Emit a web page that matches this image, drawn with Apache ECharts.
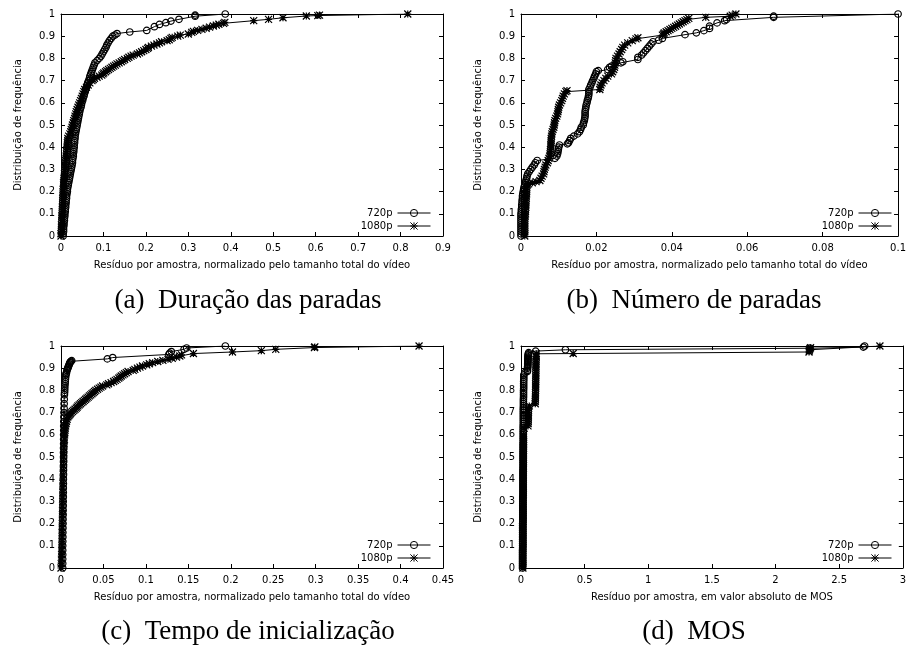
<!DOCTYPE html>
<html>
<head>
<meta charset="utf-8">
<script src="https://cdn.jsdelivr.net/npm/echarts@6/dist/echarts.min.js"></script>
<style>html,body{margin:0;padding:0;background:#fff}#c{width:909px;height:650px}</style>
</head>
<body>
<div id="c"></div>
<script>
// ---- data: [residual, cumulative frequency] ----
const a720 = [[0.005,0],[0.005,0.01],[0.006,0.02],[0.006,0.03],[0.006,0.04],[0.007,0.05],[0.007,0.06],[0.008,0.07],[0.008,0.08],[0.009,0.09],[0.009,0.10],[0.010,0.11],[0.010,0.12],[0.011,0.13],[0.011,0.14],[0.012,0.15],[0.012,0.16],[0.013,0.17],[0.013,0.18],[0.014,0.19],[0.015,0.20],[0.015,0.21],[0.016,0.22],[0.017,0.23],[0.018,0.24],[0.019,0.25],[0.020,0.26],[0.021,0.27],[0.022,0.28],[0.023,0.29],[0.024,0.30],[0.025,0.31],[0.026,0.32],[0.027,0.33],[0.027,0.34],[0.028,0.35],[0.029,0.36],[0.029,0.37],[0.030,0.38],[0.030,0.39],[0.031,0.40],[0.031,0.41],[0.032,0.42],[0.032,0.43],[0.033,0.44],[0.033,0.45],[0.034,0.46],[0.035,0.47],[0.036,0.48],[0.037,0.49],[0.038,0.50],[0.039,0.51],[0.040,0.52],[0.041,0.53],[0.042,0.54],[0.043,0.55],[0.044,0.56],[0.045,0.57],[0.047,0.58],[0.048,0.59],[0.049,0.60],[0.051,0.61],[0.052,0.62],[0.054,0.63],[0.055,0.64],[0.057,0.65],[0.058,0.66],[0.060,0.67],[0.062,0.68],[0.063,0.69],[0.065,0.70],[0.067,0.71],[0.068,0.72],[0.070,0.73],[0.072,0.74],[0.074,0.75],[0.076,0.76],[0.078,0.77],[0.080,0.78],[0.085,0.79],[0.090,0.80],[0.094,0.81],[0.097,0.82],[0.100,0.83],[0.103,0.84],[0.106,0.85],[0.108,0.86],[0.111,0.87],[0.114,0.88],[0.118,0.89],[0.122,0.90],[0.127,0.905],[0.132,0.912],[0.162,0.919],[0.202,0.926],[0.220,0.943],[0.232,0.953],[0.247,0.961],[0.259,0.968],[0.278,0.976],[0.316,0.990],[0.316,0.995],[0.387,1.0]];
const a1080 = [[0,0],[0,0.01],[0.001,0.02],[0.001,0.03],[0.001,0.04],[0.001,0.05],[0.002,0.06],[0.002,0.07],[0.002,0.08],[0.002,0.09],[0.003,0.10],[0.003,0.11],[0.003,0.12],[0.003,0.13],[0.004,0.14],[0.004,0.15],[0.004,0.16],[0.004,0.17],[0.005,0.18],[0.005,0.19],[0.005,0.20],[0.005,0.21],[0.006,0.22],[0.006,0.23],[0.006,0.24],[0.007,0.25],[0.007,0.26],[0.008,0.27],[0.008,0.28],[0.009,0.29],[0.009,0.30],[0.010,0.31],[0.010,0.32],[0.011,0.33],[0.011,0.34],[0.012,0.35],[0.012,0.36],[0.013,0.37],[0.013,0.38],[0.014,0.39],[0.014,0.40],[0.015,0.41],[0.015,0.42],[0.016,0.43],[0.016,0.44],[0.018,0.45],[0.021,0.46],[0.023,0.47],[0.024,0.48],[0.026,0.49],[0.027,0.50],[0.029,0.51],[0.030,0.52],[0.032,0.53],[0.033,0.54],[0.035,0.55],[0.036,0.56],[0.038,0.57],[0.040,0.58],[0.042,0.59],[0.044,0.60],[0.046,0.61],[0.048,0.62],[0.050,0.63],[0.052,0.64],[0.054,0.65],[0.056,0.66],[0.060,0.67],[0.064,0.68],[0.068,0.69],[0.073,0.70],[0.076,0.705],[0.079,0.71],[0.085,0.715],[0.090,0.72],[0.096,0.725],[0.099,0.73],[0.101,0.735],[0.105,0.74],[0.108,0.745],[0.112,0.75],[0.116,0.755],[0.120,0.76],[0.124,0.765],[0.128,0.77],[0.132,0.775],[0.137,0.78],[0.142,0.785],[0.146,0.79],[0.150,0.795],[0.156,0.80],[0.160,0.805],[0.165,0.81],[0.170,0.815],[0.180,0.82],[0.185,0.825],[0.190,0.83],[0.195,0.835],[0.200,0.84],[0.204,0.845],[0.206,0.85],[0.213,0.855],[0.219,0.86],[0.226,0.865],[0.232,0.87],[0.237,0.875],[0.250,0.88],[0.255,0.884],[0.259,0.89],[0.262,0.895],[0.275,0.90],[0.281,0.905],[0.300,0.91],[0.308,0.917],[0.312,0.922],[0.322,0.926],[0.332,0.931],[0.342,0.936],[0.350,0.941],[0.359,0.946],[0.366,0.95],[0.372,0.954],[0.383,0.958],[0.386,0.962],[0.454,0.970],[0.489,0.976],[0.523,0.983],[0.578,0.991],[0.605,0.993],[0.609,0.995],[0.817,1.0]];
const b720 = [[0,0],[0,0.01],[0,0.02],[0,0.03],[0,0.04],[0,0.05],[0,0.06],[0,0.07],[0,0.08],[0,0.09],[0,0.10],[0.0001,0.11],[0.0001,0.12],[0.0002,0.13],[0.0002,0.14],[0.0003,0.15],[0.0003,0.16],[0.0004,0.17],[0.0004,0.18],[0.0005,0.19],[0.0006,0.20],[0.0007,0.21],[0.0008,0.22],[0.001,0.23],[0.0012,0.24],[0.0013,0.25],[0.0015,0.26],[0.0016,0.27],[0.0018,0.28],[0.0022,0.29],[0.0026,0.30],[0.003,0.31],[0.0035,0.32],[0.0038,0.33],[0.0043,0.34],[0.009,0.35],[0.0095,0.36],[0.0097,0.37],[0.0098,0.38],[0.0099,0.39],[0.0100,0.40],[0.0102,0.41],[0.0123,0.415],[0.0126,0.42],[0.0129,0.43],[0.0132,0.44],[0.014,0.45],[0.015,0.46],[0.0155,0.47],[0.0158,0.48],[0.016,0.49],[0.0165,0.50],[0.0166,0.51],[0.0168,0.52],[0.0169,0.53],[0.017,0.54],[0.017,0.55],[0.017,0.56],[0.0171,0.57],[0.0172,0.58],[0.0173,0.59],[0.0175,0.60],[0.0176,0.61],[0.0178,0.62],[0.0179,0.63],[0.018,0.64],[0.018,0.65],[0.018,0.66],[0.0183,0.67],[0.0185,0.68],[0.0188,0.69],[0.019,0.70],[0.0193,0.71],[0.0195,0.72],[0.0198,0.73],[0.020,0.74],[0.0205,0.745],[0.023,0.75],[0.0235,0.76],[0.024,0.765],[0.0265,0.78],[0.027,0.785],[0.031,0.795],[0.031,0.805],[0.032,0.815],[0.0325,0.825],[0.033,0.835],[0.0335,0.845],[0.034,0.855],[0.0345,0.865],[0.035,0.875],[0.0365,0.882],[0.0375,0.89],[0.0435,0.907],[0.0465,0.915],[0.0485,0.925],[0.050,0.935],[0.050,0.945],[0.052,0.96],[0.054,0.97],[0.0545,0.975],[0.067,0.985],[0.067,0.99],[0.1,1.0]];
const b1080 = [[0.001,0],[0.001,0.01],[0.001,0.02],[0.001,0.03],[0.001,0.04],[0.001,0.05],[0.001,0.06],[0.001,0.07],[0.001,0.08],[0.0011,0.09],[0.0012,0.10],[0.0012,0.11],[0.0012,0.12],[0.0013,0.13],[0.0013,0.14],[0.0013,0.15],[0.0013,0.16],[0.0014,0.17],[0.0014,0.18],[0.0015,0.19],[0.0015,0.20],[0.0015,0.21],[0.0015,0.22],[0.0017,0.23],[0.002,0.235],[0.003,0.24],[0.004,0.245],[0.005,0.25],[0.0053,0.26],[0.0056,0.27],[0.006,0.28],[0.0061,0.29],[0.0062,0.30],[0.0064,0.31],[0.0066,0.32],[0.007,0.33],[0.0072,0.34],[0.0074,0.35],[0.0076,0.36],[0.0077,0.37],[0.0078,0.38],[0.0078,0.39],[0.0079,0.40],[0.0079,0.41],[0.008,0.42],[0.008,0.43],[0.008,0.44],[0.0081,0.45],[0.0082,0.46],[0.0083,0.47],[0.0085,0.48],[0.0087,0.49],[0.0088,0.50],[0.0089,0.51],[0.009,0.52],[0.0092,0.53],[0.0095,0.54],[0.0097,0.55],[0.0098,0.56],[0.0099,0.57],[0.010,0.58],[0.0102,0.59],[0.0105,0.60],[0.0108,0.61],[0.011,0.62],[0.0112,0.63],[0.0115,0.64],[0.0119,0.65],[0.0122,0.655],[0.0209,0.66],[0.021,0.67],[0.0212,0.68],[0.0215,0.69],[0.022,0.70],[0.0225,0.71],[0.023,0.72],[0.024,0.73],[0.0243,0.74],[0.0246,0.75],[0.0248,0.76],[0.0249,0.77],[0.025,0.78],[0.0251,0.79],[0.0252,0.80],[0.0256,0.81],[0.026,0.82],[0.0263,0.83],[0.0267,0.84],[0.027,0.85],[0.0275,0.86],[0.0283,0.87],[0.0295,0.88],[0.0305,0.888],[0.031,0.893],[0.0375,0.905],[0.0378,0.91],[0.038,0.915],[0.0385,0.92],[0.039,0.925],[0.0395,0.93],[0.040,0.935],[0.0405,0.94],[0.041,0.945],[0.0415,0.95],[0.042,0.955],[0.0425,0.96],[0.043,0.965],[0.0435,0.97],[0.044,0.975],[0.0445,0.98],[0.049,0.985],[0.0555,0.99],[0.056,0.995],[0.057,1.0]];
const c720 = [[0.002,0],[0.002,0.02],[0.002,0.04],[0.002,0.06],[0.002,0.08],[0.002,0.10],[0.0021,0.12],[0.0022,0.14],[0.0022,0.16],[0.0023,0.18],[0.0024,0.20],[0.0024,0.22],[0.0025,0.24],[0.0025,0.26],[0.0026,0.28],[0.0026,0.30],[0.0027,0.32],[0.0027,0.34],[0.0027,0.36],[0.0028,0.38],[0.0028,0.40],[0.0029,0.42],[0.0029,0.44],[0.0029,0.46],[0.003,0.48],[0.003,0.50],[0.003,0.52],[0.003,0.54],[0.0031,0.56],[0.0031,0.58],[0.0031,0.60],[0.0032,0.62],[0.0032,0.64],[0.0033,0.66],[0.0034,0.68],[0.0035,0.70],[0.0036,0.72],[0.0037,0.74],[0.0038,0.76],[0.004,0.78],[0.0042,0.79],[0.0043,0.80],[0.0044,0.81],[0.0045,0.82],[0.0048,0.83],[0.005,0.84],[0.0052,0.85],[0.0055,0.86],[0.0058,0.87],[0.006,0.875],[0.0065,0.88],[0.007,0.89],[0.0075,0.895],[0.008,0.90],[0.0085,0.905],[0.009,0.91],[0.0095,0.915],[0.010,0.92],[0.0105,0.925],[0.011,0.928],[0.0118,0.931],[0.0126,0.934],[0.0546,0.942],[0.0609,0.948],[0.127,0.962],[0.128,0.968],[0.130,0.975],[0.145,0.985],[0.148,0.991],[0.1936,1.0]];
const c1080 = [[0,0],[0.0003,0.02],[0.0005,0.04],[0.0007,0.06],[0.0009,0.08],[0.001,0.10],[0.0011,0.12],[0.0012,0.14],[0.0013,0.16],[0.0014,0.18],[0.0015,0.20],[0.0016,0.22],[0.0017,0.24],[0.0018,0.26],[0.0019,0.28],[0.002,0.30],[0.0021,0.32],[0.0022,0.34],[0.0023,0.36],[0.0024,0.38],[0.0025,0.40],[0.0027,0.42],[0.0029,0.44],[0.003,0.46],[0.0031,0.48],[0.0032,0.50],[0.0033,0.52],[0.0035,0.54],[0.0037,0.56],[0.004,0.58],[0.0043,0.60],[0.0045,0.61],[0.0047,0.62],[0.005,0.63],[0.0055,0.64],[0.006,0.65],[0.0065,0.66],[0.0072,0.67],[0.008,0.68],[0.009,0.685],[0.010,0.69],[0.011,0.695],[0.012,0.70],[0.0135,0.705],[0.015,0.71],[0.0165,0.715],[0.018,0.72],[0.019,0.725],[0.020,0.73],[0.0215,0.735],[0.023,0.74],[0.0245,0.745],[0.026,0.75],[0.0275,0.755],[0.029,0.76],[0.0305,0.765],[0.032,0.77],[0.0335,0.775],[0.035,0.78],[0.0365,0.785],[0.038,0.79],[0.0395,0.795],[0.041,0.80],[0.043,0.805],[0.045,0.81],[0.047,0.815],[0.049,0.82],[0.054,0.825],[0.056,0.83],[0.059,0.835],[0.062,0.84],[0.064,0.845],[0.066,0.85],[0.068,0.855],[0.0695,0.86],[0.071,0.865],[0.073,0.87],[0.075,0.875],[0.077,0.88],[0.079,0.885],[0.085,0.89],[0.087,0.895],[0.090,0.90],[0.093,0.905],[0.096,0.91],[0.101,0.915],[0.104,0.92],[0.108,0.925],[0.114,0.93],[0.120,0.935],[0.126,0.94],[0.131,0.945],[0.136,0.95],[0.140,0.955],[0.142,0.96],[0.156,0.966],[0.202,0.973],[0.236,0.979],[0.253,0.985],[0.2985,0.993],[0.299,0.996],[0.4218,1.0]];
const d720 = [[0.012,0],[0.012,0.01],[0.012,0.02],[0.012,0.03],[0.012,0.04],[0.012,0.05],[0.012,0.06],[0.012,0.07],[0.012,0.08],[0.013,0.09],[0.013,0.10],[0.013,0.11],[0.013,0.12],[0.013,0.13],[0.013,0.14],[0.013,0.15],[0.013,0.16],[0.013,0.17],[0.013,0.18],[0.013,0.19],[0.013,0.20],[0.014,0.21],[0.014,0.22],[0.014,0.23],[0.014,0.24],[0.014,0.25],[0.014,0.26],[0.014,0.27],[0.014,0.28],[0.014,0.29],[0.014,0.30],[0.014,0.31],[0.014,0.32],[0.015,0.33],[0.015,0.34],[0.015,0.35],[0.015,0.36],[0.015,0.37],[0.015,0.38],[0.015,0.39],[0.015,0.40],[0.015,0.41],[0.015,0.42],[0.015,0.43],[0.015,0.44],[0.016,0.45],[0.016,0.46],[0.016,0.47],[0.016,0.48],[0.016,0.49],[0.016,0.50],[0.016,0.51],[0.016,0.52],[0.016,0.53],[0.016,0.54],[0.016,0.55],[0.016,0.56],[0.017,0.57],[0.017,0.58],[0.017,0.59],[0.017,0.60],[0.017,0.61],[0.017,0.62],[0.017,0.63],[0.017,0.64],[0.018,0.65],[0.018,0.66],[0.018,0.67],[0.018,0.68],[0.018,0.69],[0.018,0.70],[0.018,0.71],[0.018,0.72],[0.019,0.73],[0.019,0.74],[0.019,0.75],[0.019,0.76],[0.02,0.77],[0.02,0.78],[0.02,0.79],[0.02,0.80],[0.021,0.81],[0.021,0.82],[0.021,0.83],[0.021,0.84],[0.022,0.85],[0.022,0.86],[0.022,0.87],[0.03,0.88],[0.05,0.885],[0.051,0.89],[0.052,0.90],[0.052,0.905],[0.053,0.91],[0.053,0.915],[0.053,0.92],[0.054,0.925],[0.054,0.93],[0.054,0.935],[0.055,0.94],[0.055,0.945],[0.055,0.95],[0.056,0.955],[0.056,0.96],[0.058,0.965],[0.06,0.97],[0.115,0.977],[0.349,0.983],[2.27,0.99],[2.69,0.995],[2.7,1.0]];
const d1080 = [[0.015,0],[0.015,0.01],[0.015,0.02],[0.015,0.03],[0.015,0.04],[0.015,0.05],[0.015,0.06],[0.015,0.07],[0.015,0.08],[0.016,0.09],[0.016,0.10],[0.016,0.11],[0.016,0.12],[0.016,0.13],[0.016,0.14],[0.016,0.15],[0.016,0.16],[0.016,0.17],[0.016,0.18],[0.016,0.19],[0.016,0.20],[0.017,0.21],[0.017,0.22],[0.017,0.23],[0.017,0.24],[0.017,0.25],[0.017,0.26],[0.017,0.27],[0.017,0.28],[0.017,0.29],[0.017,0.30],[0.017,0.31],[0.017,0.32],[0.018,0.33],[0.018,0.34],[0.018,0.35],[0.018,0.36],[0.018,0.37],[0.018,0.38],[0.018,0.39],[0.018,0.40],[0.018,0.41],[0.018,0.42],[0.018,0.43],[0.018,0.44],[0.019,0.45],[0.019,0.46],[0.019,0.47],[0.019,0.48],[0.019,0.49],[0.019,0.50],[0.019,0.51],[0.019,0.52],[0.02,0.53],[0.02,0.54],[0.02,0.55],[0.02,0.56],[0.02,0.57],[0.02,0.58],[0.02,0.59],[0.02,0.60],[0.025,0.63],[0.055,0.64],[0.056,0.65],[0.057,0.66],[0.057,0.67],[0.058,0.68],[0.058,0.69],[0.059,0.70],[0.059,0.71],[0.06,0.72],[0.065,0.73],[0.112,0.74],[0.112,0.75],[0.113,0.76],[0.113,0.77],[0.114,0.78],[0.114,0.79],[0.115,0.80],[0.115,0.81],[0.115,0.82],[0.115,0.83],[0.116,0.84],[0.116,0.85],[0.116,0.86],[0.116,0.87],[0.117,0.88],[0.117,0.89],[0.117,0.90],[0.117,0.91],[0.118,0.92],[0.118,0.93],[0.118,0.94],[0.119,0.95],[0.119,0.955],[0.12,0.965],[0.41,0.966],[2.263,0.973],[2.265,0.978],[2.267,0.983],[2.27,0.988],[2.275,0.992],[2.82,1.0]];

const series720 = [a720, b720, c720, d720];
const series1080 = [a1080, b1080, c1080, d1080];
const xMaxs = [0.9, 0.1, 0.45, 3];
const xSteps = [0.1, 0.02, 0.05, 0.5];
const xNames = [
  'Resíduo por amostra, normalizado pelo tamanho total do vídeo',
  'Resíduo por amostra, normalizado pelo tamanho total do vídeo',
  'Resíduo por amostra, normalizado pelo tamanho total do vídeo',
  'Resíduo por amostra, em valor absoluto de MOS'
];
const yName = 'Distribuição de frequência';
const captions = ['(a)  Duração das paradas', '(b)  Número de paradas', '(c)  Tempo de inicialização', '(d)  MOS'];
const legendNames = ['720p', '1080p'];

// ---- layout ----
const grids = [
  {left: 61, top: 14, width: 382, height: 222},
  {left: 521, top: 14, width: 383, height: 222},
  {left: 61, top: 346, width: 382, height: 222},
  {left: 521, top: 346, width: 384, height: 222}
];
const captionPos = [[248, 301], [694, 301], [248, 632], [694, 632]];
const legendPos = [{right: 478, top: 208}, {right: 17, top: 208}, {right: 478, top: 540}, {right: 17, top: 540}];

const FONT = 'DejaVu Sans';
const FS = 10;
const STAR = 'path://M5 0L5 10M0 5L10 5M0 0L10 10M0 10L10 0';

const xAxis = [], yAxis = [], series = [], legend = [], graphic = [];
const axisLineStyle = {show: true, onZero: false, lineStyle: {color: '#000', width: 1}};
const tickStyle = {show: true, inside: true, length: 4, lineStyle: {color: '#000', width: 1}};

for (let i = 0; i < 4; i++) {
  xAxis.push({
    type: 'value', gridIndex: i, position: 'bottom', min: 0, max: xMaxs[i], interval: xSteps[i],
    name: xNames[i], nameLocation: 'middle', nameGap: 24,
    nameTextStyle: {fontFamily: FONT, fontSize: FS, color: '#000'},
    axisLine: axisLineStyle, axisTick: tickStyle,
    axisLabel: {margin: 7, color: '#000', fontFamily: FONT, fontSize: FS, showMinLabel: true, showMaxLabel: true},
    splitLine: {show: false}
  });
  xAxis.push({
    type: 'value', gridIndex: i, position: 'top', min: 0, max: xMaxs[i], interval: xSteps[i],
    axisLine: axisLineStyle, axisTick: tickStyle, axisLabel: {show: false}, splitLine: {show: false}
  });
  yAxis.push({
    type: 'value', gridIndex: i, position: 'left', min: 0, max: 1, interval: 0.1,
    name: yName, nameLocation: 'middle', nameGap: 38, nameRotate: 90,
    nameTextStyle: {fontFamily: FONT, fontSize: FS, color: '#000'},
    axisLine: axisLineStyle, axisTick: tickStyle,
    axisLabel: {margin: 6, color: '#000', fontFamily: FONT, fontSize: FS},
    splitLine: {show: false}
  });
  yAxis.push({
    type: 'value', gridIndex: i, position: 'right', min: 0, max: 1, interval: 0.1,
    axisLine: axisLineStyle, axisTick: tickStyle, axisLabel: {show: false}, splitLine: {show: false}
  });
  series.push({
    type: 'line', name: legendNames[0], xAxisIndex: 2 * i, yAxisIndex: 2 * i, data: series720[i],
    symbol: 'circle', symbolSize: 6.5, showSymbol: true,
    lineStyle: {color: '#000', width: 1},
    itemStyle: {color: 'rgba(0,0,0,0)', borderColor: '#000', borderWidth: 1.2},
    emphasis: {disabled: true}, silent: true, animation: false
  });
  series.push({
    type: 'line', name: legendNames[1], xAxisIndex: 2 * i, yAxisIndex: 2 * i, data: series1080[i],
    symbol: STAR, symbolSize: 7, symbolKeepAspect: true, showSymbol: true,
    lineStyle: {color: '#000', width: 1},
    itemStyle: {color: 'rgba(0,0,0,0)', borderColor: '#000', borderWidth: 1.2},
    emphasis: {disabled: true}, silent: true, animation: false
  });
  legend.push(Object.assign({
    data: legendNames, orient: 'vertical', align: 'right', padding: 0,
    itemWidth: 33, itemHeight: 9, itemGap: 3, selectedMode: false,
    lineStyle: {width: 1, color: '#000'},
    itemStyle: {borderWidth: 1, borderColor: '#000', color: 'rgba(0,0,0,0)'},
    textStyle: {fontFamily: FONT, fontSize: FS, color: '#000'}
  }, legendPos[i]));
  graphic.push({
    type: 'text', x: captionPos[i][0], y: captionPos[i][1],
    style: {text: captions[i], fontFamily: 'Liberation Serif', fontSize: 27, fill: '#000', align: 'center', verticalAlign: 'middle'}
  });
}

const chart = echarts.init(document.getElementById('c'), null, {renderer: 'canvas'});
chart.setOption({
  animation: false,
  backgroundColor: '#fff',
  grid: grids,
  xAxis: xAxis,
  yAxis: yAxis,
  legend: legend,
  series: series,
  graphic: graphic
});
</script>
</body>
</html>
